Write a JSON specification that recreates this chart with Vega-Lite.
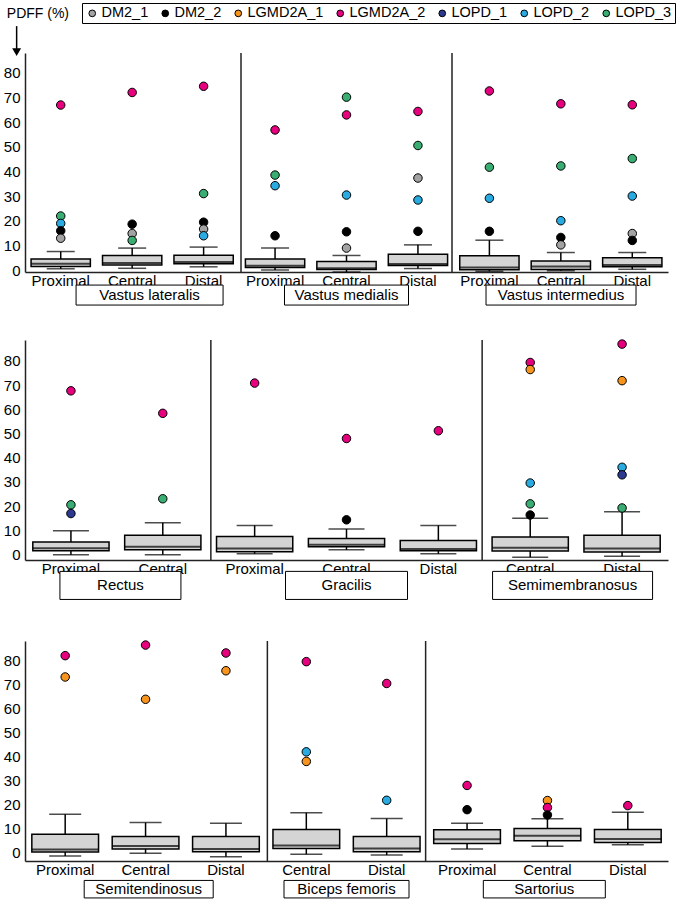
{
  "$schema": "https://vega.github.io/schema/vega-lite/v6.json",
  "padding": {"left": 3, "top": 2, "right": 1, "bottom": 2},
  "background": "white",
  "config": {
    "view": {"stroke": null},
    "font": "Liberation Sans",
    "axis": {"labelFont": "Liberation Sans", "labelFontSize": 15, "labelColor": "black", "ticks": false, "grid": false, "domainColor": "#222", "domainWidth": 1.5, "labelOverlap": false},
    "text": {"font": "Liberation Sans", "color": "black"}
  },
  "datasets": {
    "boxes": [
      {"row": 1, "cat": "Vastus lateralis|Proximal", "lo": 0.5, "q1": 1.4, "med": 2.5, "q3": 4.5, "hi": 7.5},
      {"row": 1, "cat": "Vastus lateralis|Central", "lo": 0.7, "q1": 2.0, "med": 2.8, "q3": 5.9, "hi": 8.9},
      {"row": 1, "cat": "Vastus lateralis|Distal", "lo": 1.3, "q1": 2.5, "med": 3.3, "q3": 6.0, "hi": 9.3},
      {"row": 1, "cat": "Vastus medialis|Proximal", "lo": 0.0, "q1": 1.0, "med": 1.7, "q3": 4.5, "hi": 8.9},
      {"row": 1, "cat": "Vastus medialis|Central", "lo": -0.8, "q1": 0.2, "med": 0.7, "q3": 3.5, "hi": 5.9},
      {"row": 1, "cat": "Vastus medialis|Distal", "lo": 0.6, "q1": 1.8, "med": 2.4, "q3": 6.4, "hi": 10.2},
      {"row": 1, "cat": "Vastus intermedius|Proximal", "lo": -0.5, "q1": 0.1, "med": 1.0, "q3": 5.8, "hi": 12.1},
      {"row": 1, "cat": "Vastus intermedius|Central", "lo": -0.3, "q1": 0.2, "med": 1.4, "q3": 3.7, "hi": 7.1},
      {"row": 1, "cat": "Vastus intermedius|Distal", "lo": 0.3, "q1": 1.3, "med": 2.0, "q3": 5.0, "hi": 7.1},
      {"row": 2, "cat": "Rectus|Proximal", "lo": -0.1, "q1": 1.5, "med": 2.6, "q3": 5.1, "hi": 9.8},
      {"row": 2, "cat": "Rectus|Central", "lo": -0.1, "q1": 1.9, "med": 3.2, "q3": 7.9, "hi": 13.1},
      {"row": 2, "cat": "Gracilis|Proximal", "lo": 0.3, "q1": 1.1, "med": 2.4, "q3": 7.4, "hi": 12.0},
      {"row": 2, "cat": "Gracilis|Central", "lo": 1.9, "q1": 3.2, "med": 4.0, "q3": 6.6, "hi": 10.5},
      {"row": 2, "cat": "Gracilis|Distal", "lo": 0.3, "q1": 1.5, "med": 2.2, "q3": 5.8, "hi": 12.0},
      {"row": 2, "cat": "Semimembranosus|Central", "lo": -1.2, "q1": 1.4, "med": 2.8, "q3": 7.2, "hi": 15.0},
      {"row": 2, "cat": "Semimembranosus|Distal", "lo": -0.8, "q1": 1.0, "med": 2.5, "q3": 7.9, "hi": 17.6},
      {"row": 3, "cat": "Semitendinosus|Proximal", "lo": -1.4, "q1": 0.3, "med": 1.3, "q3": 7.6, "hi": 16.0},
      {"row": 3, "cat": "Semitendinosus|Central", "lo": -0.3, "q1": 1.5, "med": 2.8, "q3": 6.7, "hi": 12.5},
      {"row": 3, "cat": "Semitendinosus|Distal", "lo": -1.7, "q1": 0.4, "med": 1.5, "q3": 6.7, "hi": 12.2},
      {"row": 3, "cat": "Biceps femoris|Central", "lo": -0.7, "q1": 1.7, "med": 3.0, "q3": 9.6, "hi": 16.6},
      {"row": 3, "cat": "Biceps femoris|Distal", "lo": -1.0, "q1": 0.4, "med": 1.7, "q3": 6.7, "hi": 14.2},
      {"row": 3, "cat": "Sartorius|Proximal", "lo": 1.5, "q1": 3.8, "med": 5.6, "q3": 9.5, "hi": 12.2},
      {"row": 3, "cat": "Sartorius|Central", "lo": 2.6, "q1": 4.9, "med": 7.0, "q3": 10.0, "hi": 14.1},
      {"row": 3, "cat": "Sartorius|Distal", "lo": 3.3, "q1": 4.2, "med": 5.7, "q3": 9.6, "hi": 16.8}
    ],
    "points": [
      {"row": 1, "cat": "Vastus lateralis|Proximal", "patient": "LGMD2A_2", "value": 66.9},
      {"row": 1, "cat": "Vastus lateralis|Proximal", "patient": "LOPD_3", "value": 21.9},
      {"row": 1, "cat": "Vastus lateralis|Proximal", "patient": "LOPD_2", "value": 18.9},
      {"row": 1, "cat": "Vastus lateralis|Proximal", "patient": "DM2_2", "value": 15.9},
      {"row": 1, "cat": "Vastus lateralis|Proximal", "patient": "DM2_1", "value": 12.9},
      {"row": 1, "cat": "Vastus lateralis|Central", "patient": "LGMD2A_2", "value": 72.0},
      {"row": 1, "cat": "Vastus lateralis|Central", "patient": "DM2_2", "value": 18.6},
      {"row": 1, "cat": "Vastus lateralis|Central", "patient": "DM2_1", "value": 14.8},
      {"row": 1, "cat": "Vastus lateralis|Central", "patient": "LOPD_3", "value": 12.0},
      {"row": 1, "cat": "Vastus lateralis|Distal", "patient": "LGMD2A_2", "value": 74.5},
      {"row": 1, "cat": "Vastus lateralis|Distal", "patient": "LOPD_3", "value": 31.0},
      {"row": 1, "cat": "Vastus lateralis|Distal", "patient": "DM2_2", "value": 19.4},
      {"row": 1, "cat": "Vastus lateralis|Distal", "patient": "DM2_1", "value": 16.6},
      {"row": 1, "cat": "Vastus lateralis|Distal", "patient": "LOPD_2", "value": 13.9},
      {"row": 1, "cat": "Vastus medialis|Proximal", "patient": "LGMD2A_2", "value": 56.8},
      {"row": 1, "cat": "Vastus medialis|Proximal", "patient": "LOPD_3", "value": 38.5},
      {"row": 1, "cat": "Vastus medialis|Proximal", "patient": "LOPD_2", "value": 34.2},
      {"row": 1, "cat": "Vastus medialis|Proximal", "patient": "DM2_2", "value": 13.9},
      {"row": 1, "cat": "Vastus medialis|Central", "patient": "LOPD_3", "value": 70.1},
      {"row": 1, "cat": "Vastus medialis|Central", "patient": "LGMD2A_2", "value": 62.9},
      {"row": 1, "cat": "Vastus medialis|Central", "patient": "LOPD_2", "value": 30.4},
      {"row": 1, "cat": "Vastus medialis|Central", "patient": "DM2_2", "value": 15.5},
      {"row": 1, "cat": "Vastus medialis|Central", "patient": "DM2_1", "value": 8.9},
      {"row": 1, "cat": "Vastus medialis|Distal", "patient": "LGMD2A_2", "value": 64.3},
      {"row": 1, "cat": "Vastus medialis|Distal", "patient": "LOPD_3", "value": 50.5},
      {"row": 1, "cat": "Vastus medialis|Distal", "patient": "DM2_1", "value": 37.3},
      {"row": 1, "cat": "Vastus medialis|Distal", "patient": "LOPD_2", "value": 28.4},
      {"row": 1, "cat": "Vastus medialis|Distal", "patient": "DM2_2", "value": 15.7},
      {"row": 1, "cat": "Vastus intermedius|Proximal", "patient": "LGMD2A_2", "value": 72.6},
      {"row": 1, "cat": "Vastus intermedius|Proximal", "patient": "LOPD_3", "value": 41.7},
      {"row": 1, "cat": "Vastus intermedius|Proximal", "patient": "LOPD_2", "value": 29.1},
      {"row": 1, "cat": "Vastus intermedius|Proximal", "patient": "DM2_2", "value": 15.7},
      {"row": 1, "cat": "Vastus intermedius|Central", "patient": "LGMD2A_2", "value": 67.4},
      {"row": 1, "cat": "Vastus intermedius|Central", "patient": "LOPD_3", "value": 42.2},
      {"row": 1, "cat": "Vastus intermedius|Central", "patient": "LOPD_2", "value": 20.0},
      {"row": 1, "cat": "Vastus intermedius|Central", "patient": "DM2_2", "value": 13.2},
      {"row": 1, "cat": "Vastus intermedius|Central", "patient": "DM2_1", "value": 10.2},
      {"row": 1, "cat": "Vastus intermedius|Distal", "patient": "LGMD2A_2", "value": 67.0},
      {"row": 1, "cat": "Vastus intermedius|Distal", "patient": "LOPD_3", "value": 45.2},
      {"row": 1, "cat": "Vastus intermedius|Distal", "patient": "LOPD_2", "value": 30.0},
      {"row": 1, "cat": "Vastus intermedius|Distal", "patient": "DM2_1", "value": 14.8},
      {"row": 1, "cat": "Vastus intermedius|Distal", "patient": "DM2_2", "value": 12.0},
      {"row": 2, "cat": "Rectus|Proximal", "patient": "LGMD2A_2", "value": 67.6},
      {"row": 2, "cat": "Rectus|Proximal", "patient": "LOPD_3", "value": 20.5},
      {"row": 2, "cat": "Rectus|Proximal", "patient": "LOPD_1", "value": 16.9},
      {"row": 2, "cat": "Rectus|Central", "patient": "LGMD2A_2", "value": 58.3},
      {"row": 2, "cat": "Rectus|Central", "patient": "LOPD_3", "value": 23.0},
      {"row": 2, "cat": "Gracilis|Proximal", "patient": "LGMD2A_2", "value": 70.8},
      {"row": 2, "cat": "Gracilis|Central", "patient": "LGMD2A_2", "value": 47.9},
      {"row": 2, "cat": "Gracilis|Central", "patient": "DM2_2", "value": 14.3},
      {"row": 2, "cat": "Gracilis|Distal", "patient": "LGMD2A_2", "value": 51.1},
      {"row": 2, "cat": "Semimembranosus|Central", "patient": "LGMD2A_2", "value": 79.3},
      {"row": 2, "cat": "Semimembranosus|Central", "patient": "LGMD2A_1", "value": 76.4},
      {"row": 2, "cat": "Semimembranosus|Central", "patient": "LOPD_2", "value": 29.5},
      {"row": 2, "cat": "Semimembranosus|Central", "patient": "LOPD_3", "value": 20.9},
      {"row": 2, "cat": "Semimembranosus|Central", "patient": "DM2_2", "value": 16.3},
      {"row": 2, "cat": "Semimembranosus|Distal", "patient": "LGMD2A_2", "value": 86.9},
      {"row": 2, "cat": "Semimembranosus|Distal", "patient": "LGMD2A_1", "value": 71.8},
      {"row": 2, "cat": "Semimembranosus|Distal", "patient": "LOPD_2", "value": 36.0},
      {"row": 2, "cat": "Semimembranosus|Distal", "patient": "LOPD_1", "value": 32.9},
      {"row": 2, "cat": "Semimembranosus|Distal", "patient": "LOPD_3", "value": 19.2},
      {"row": 3, "cat": "Semitendinosus|Proximal", "patient": "LGMD2A_2", "value": 82.1},
      {"row": 3, "cat": "Semitendinosus|Proximal", "patient": "LGMD2A_1", "value": 73.2},
      {"row": 3, "cat": "Semitendinosus|Central", "patient": "LGMD2A_2", "value": 86.5},
      {"row": 3, "cat": "Semitendinosus|Central", "patient": "LGMD2A_1", "value": 63.9},
      {"row": 3, "cat": "Semitendinosus|Distal", "patient": "LGMD2A_2", "value": 83.2},
      {"row": 3, "cat": "Semitendinosus|Distal", "patient": "LGMD2A_1", "value": 75.8},
      {"row": 3, "cat": "Biceps femoris|Central", "patient": "LGMD2A_2", "value": 79.6},
      {"row": 3, "cat": "Biceps femoris|Central", "patient": "LOPD_2", "value": 42.0},
      {"row": 3, "cat": "Biceps femoris|Central", "patient": "LGMD2A_1", "value": 38.0},
      {"row": 3, "cat": "Biceps femoris|Distal", "patient": "LGMD2A_2", "value": 70.5},
      {"row": 3, "cat": "Biceps femoris|Distal", "patient": "LOPD_2", "value": 21.8},
      {"row": 3, "cat": "Sartorius|Proximal", "patient": "LGMD2A_2", "value": 28.0},
      {"row": 3, "cat": "Sartorius|Proximal", "patient": "DM2_2", "value": 17.9},
      {"row": 3, "cat": "Sartorius|Central", "patient": "LGMD2A_1", "value": 21.7},
      {"row": 3, "cat": "Sartorius|Central", "patient": "LGMD2A_2", "value": 18.8},
      {"row": 3, "cat": "Sartorius|Central", "patient": "DM2_2", "value": 15.7},
      {"row": 3, "cat": "Sartorius|Distal", "patient": "LGMD2A_2", "value": 19.6}
    ],
    "groups": [
      {"row": 1, "muscle": "Vastus lateralis", "mid": 1.7},
      {"row": 1, "muscle": "Vastus medialis", "mid": 4.5},
      {"row": 1, "muscle": "Vastus intermedius", "mid": 7.55},
      {"row": 2, "muscle": "Rectus", "mid": 1.0},
      {"row": 2, "muscle": "Gracilis", "mid": 3.5},
      {"row": 2, "muscle": "Semimembranosus", "mid": 6.0},
      {"row": 3, "muscle": "Semitendinosus", "mid": 1.5},
      {"row": 3, "muscle": "Biceps femoris", "mid": 4.0},
      {"row": 3, "muscle": "Sartorius", "mid": 6.5}
    ],
    "seps": [
      {"row": 1, "at": 3}, {"row": 1, "at": 6},
      {"row": 2, "at": 2}, {"row": 2, "at": 5},
      {"row": 3, "at": 3}, {"row": 3, "at": 5}
    ]
  },
  "columns": 1,
  "spacing": 31,
  "align": "each",
  "concat": [
    {
      "width": 643, "height": 219,
      "resolve": {"scale": {"x": "independent"}, "axis": {"x": "independent"}},
      "layer": [
        {
          "layer": [
            {"data": {"name": "boxes"}, "transform": [{"filter": "datum.row == 1"}],
             "mark": {"type": "rule", "color": "black", "strokeWidth": 1.5},
             "encoding": {
               "x": {"field": "cat", "type": "nominal", "sort": null, "scale": {"domain": ["Vastus lateralis|Proximal","Vastus lateralis|Central","Vastus lateralis|Distal","Vastus medialis|Proximal","Vastus medialis|Central","Vastus medialis|Distal","Vastus intermedius|Proximal","Vastus intermedius|Central","Vastus intermedius|Distal"], "paddingInner": 0, "paddingOuter": 0},
                     "axis": {"title": null, "labelExpr": "split(datum.value, '|')[1]", "labelAngle": 0, "labelPadding": 1}},
               "y": {"field": "lo", "type": "quantitative", "scale": {"domain": [-0.8, 88], "nice": false, "zero": false},
                     "axis": {"title": null, "values": [0,10,20,30,40,50,60,70,80], "labelPadding": 5}},
               "y2": {"field": "hi"}}},
            {"data": {"name": "boxes"}, "transform": [{"filter": "datum.row == 1"}],
             "mark": {"type": "tick", "color": "black", "thickness": 1.5, "size": 28},
             "encoding": {"x": {"field": "cat", "type": "nominal", "sort": null}, "y": {"field": "hi", "type": "quantitative", "axis": {"title": null, "values": [0,10,20,30,40,50,60,70,80], "labelPadding": 5}}}},
            {"data": {"name": "boxes"}, "transform": [{"filter": "datum.row == 1"}],
             "mark": {"type": "tick", "color": "black", "thickness": 1.5, "size": 28},
             "encoding": {"x": {"field": "cat", "type": "nominal", "sort": null}, "y": {"field": "lo", "type": "quantitative", "axis": {"title": null, "values": [0,10,20,30,40,50,60,70,80], "labelPadding": 5}}}},
            {"data": {"name": "boxes"}, "transform": [{"filter": "datum.row == 1"}],
             "mark": {"type": "bar", "fill": "#d4d4d4", "stroke": "black", "strokeWidth": 1.5, "width": {"band": 0.83}},
             "encoding": {"x": {"field": "cat", "type": "nominal", "sort": null}, "y": {"field": "q1", "type": "quantitative", "axis": {"title": null, "values": [0,10,20,30,40,50,60,70,80], "labelPadding": 5}}, "y2": {"field": "q3"}}},
            {"data": {"name": "boxes"}, "transform": [{"filter": "datum.row == 1"}],
             "mark": {"type": "tick", "color": "black", "thickness": 2, "size": 59},
             "encoding": {"x": {"field": "cat", "type": "nominal", "sort": null}, "y": {"field": "med", "type": "quantitative", "axis": {"title": null, "values": [0,10,20,30,40,50,60,70,80], "labelPadding": 5}}}},
            {"data": {"name": "points"}, "transform": [{"filter": "datum.row == 1"}],
             "mark": {"type": "point", "filled": true, "shape": "circle", "size": 72, "stroke": "black", "strokeWidth": 1, "opacity": 1},
             "encoding": {
               "x": {"field": "cat", "type": "nominal", "sort": null},
               "y": {"field": "value", "type": "quantitative", "axis": {"title": null, "values": [0,10,20,30,40,50,60,70,80], "labelPadding": 5}},
               "color": {"field": "patient", "type": "nominal",
                 "scale": {"domain": ["DM2_1","DM2_2","LGMD2A_1","LGMD2A_2","LOPD_1","LOPD_2","LOPD_3"], "range": ["#a3a3a3","#000000","#f7941d","#e6007e","#2b3990","#29aae1","#3aae72"]},
                 "legend": {"orient": "none", "legendX": 57, "legendY": -50, "direction": "horizontal", "title": null, "symbolType": "circle", "symbolSize": 45, "symbolStrokeColor": "black", "symbolStrokeWidth": 1, "labelFontSize": 14.5, "labelFont": "Liberation Sans", "labelColor": "black", "labelOffset": 2, "columnPadding": 9, "padding": 3, "strokeColor": "black", "fillColor": "white"}}}}
          ]
        },
        {
          "layer": [
            {"data": {"name": "seps"}, "transform": [{"filter": "datum.row == 1"}],
             "mark": {"type": "rule", "color": "#222", "strokeWidth": 1.5},
             "encoding": {"x": {"field": "at", "type": "quantitative", "scale": {"domain": [0, 9], "nice": false, "zero": false}, "axis": null},
                          "y": {"datum": 88, "axis": {"title": null, "values": [0,10,20,30,40,50,60,70,80], "labelPadding": 5}}, "y2": {"datum": -0.8}}},
            {"data": {"name": "groups"}, "transform": [{"filter": "datum.muscle == 'Vastus lateralis'"}],
             "mark": {"type": "bar", "fill": "white", "stroke": "black", "strokeWidth": 1, "width": 147},
             "encoding": {"x": {"field": "mid", "type": "quantitative", "axis": null}, "y": {"datum": -6.1, "axis": {"title": null, "values": [0,10,20,30,40,50,60,70,80], "labelPadding": 5}}, "y2": {"datum": -14.2}}},
            {"data": {"name": "groups"}, "transform": [{"filter": "datum.muscle == 'Vastus medialis'"}],
             "mark": {"type": "bar", "fill": "white", "stroke": "black", "strokeWidth": 1, "width": 124},
             "encoding": {"x": {"field": "mid", "type": "quantitative", "axis": null}, "y": {"datum": -6.1, "axis": {"title": null, "values": [0,10,20,30,40,50,60,70,80], "labelPadding": 5}}, "y2": {"datum": -14.2}}},
            {"data": {"name": "groups"}, "transform": [{"filter": "datum.muscle == 'Vastus intermedius'"}],
             "mark": {"type": "bar", "fill": "white", "stroke": "black", "strokeWidth": 1, "width": 150},
             "encoding": {"x": {"field": "mid", "type": "quantitative", "axis": null}, "y": {"datum": -6.1, "axis": {"title": null, "values": [0,10,20,30,40,50,60,70,80], "labelPadding": 5}}, "y2": {"datum": -14.2}}},
            {"data": {"name": "groups"}, "transform": [{"filter": "datum.row == 1"}],
             "mark": {"type": "text", "fontSize": 15, "baseline": "middle", "align": "center"},
             "encoding": {"x": {"field": "mid", "type": "quantitative", "axis": null}, "y": {"datum": -10.15, "axis": {"title": null, "values": [0,10,20,30,40,50,60,70,80], "labelPadding": 5}}, "text": {"field": "muscle"}}},
            {"data": {"values": [{"t": "PDFF (%)"}]},
             "mark": {"type": "text", "fontSize": 14, "baseline": "middle", "align": "left"},
             "encoding": {"x": {"datum": -0.33, "type": "quantitative", "axis": null}, "y": {"datum": 103.8, "axis": {"title": null, "values": [0,10,20,30,40,50,60,70,80], "labelPadding": 5}}, "text": {"field": "t"}}},
            {"data": {"values": [{"t": "arrow"}]},
             "mark": {"type": "rule", "color": "black", "strokeWidth": 1.5},
             "encoding": {"x": {"datum": -0.19, "type": "quantitative", "axis": null}, "y": {"datum": 98.9, "axis": {"title": null, "values": [0,10,20,30,40,50,60,70,80], "labelPadding": 5}}, "y2": {"datum": 89.5}}},
            {"data": {"values": [{"t": "arrow"}]},
             "mark": {"type": "point", "shape": "triangle-down", "filled": true, "color": "black", "size": 80, "opacity": 1},
             "encoding": {"x": {"datum": -0.19, "type": "quantitative", "axis": null}, "y": {"datum": 88.4, "axis": {"title": null, "values": [0,10,20,30,40,50,60,70,80], "labelPadding": 5}}}}
          ]
        }
      ]
    },
    {
      "width": 643, "height": 220,
      "resolve": {"scale": {"x": "independent"}, "axis": {"x": "independent"}},
      "layer": [
        {
          "layer": [
            {"data": {"name": "boxes"}, "transform": [{"filter": "datum.row == 2"}],
             "mark": {"type": "rule", "color": "black", "strokeWidth": 1.5},
             "encoding": {
               "x": {"field": "cat", "type": "nominal", "sort": null, "scale": {"domain": ["Rectus|Proximal","Rectus|Central","Gracilis|Proximal","Gracilis|Central","Gracilis|Distal","Semimembranosus|Central","Semimembranosus|Distal"], "paddingInner": 0, "paddingOuter": 0},
                     "axis": {"title": null, "labelExpr": "split(datum.value, '|')[1]", "labelAngle": 0, "labelPadding": 1}},
               "y": {"field": "lo", "type": "quantitative", "scale": {"domain": [-2.3, 88.6], "nice": false, "zero": false},
                     "axis": {"title": null, "values": [0,10,20,30,40,50,60,70,80], "labelPadding": 5}},
               "y2": {"field": "hi"}}},
            {"data": {"name": "boxes"}, "transform": [{"filter": "datum.row == 2"}],
             "mark": {"type": "tick", "color": "black", "thickness": 1.5, "size": 36},
             "encoding": {"x": {"field": "cat", "type": "nominal", "sort": null}, "y": {"field": "hi", "type": "quantitative", "axis": {"title": null, "values": [0,10,20,30,40,50,60,70,80], "labelPadding": 5}}}},
            {"data": {"name": "boxes"}, "transform": [{"filter": "datum.row == 2"}],
             "mark": {"type": "tick", "color": "black", "thickness": 1.5, "size": 36},
             "encoding": {"x": {"field": "cat", "type": "nominal", "sort": null}, "y": {"field": "lo", "type": "quantitative", "axis": {"title": null, "values": [0,10,20,30,40,50,60,70,80], "labelPadding": 5}}}},
            {"data": {"name": "boxes"}, "transform": [{"filter": "datum.row == 2"}],
             "mark": {"type": "bar", "fill": "#d4d4d4", "stroke": "black", "strokeWidth": 1.5, "width": {"band": 0.83}},
             "encoding": {"x": {"field": "cat", "type": "nominal", "sort": null}, "y": {"field": "q1", "type": "quantitative", "axis": {"title": null, "values": [0,10,20,30,40,50,60,70,80], "labelPadding": 5}}, "y2": {"field": "q3"}}},
            {"data": {"name": "boxes"}, "transform": [{"filter": "datum.row == 2"}],
             "mark": {"type": "tick", "color": "black", "thickness": 2, "size": 76},
             "encoding": {"x": {"field": "cat", "type": "nominal", "sort": null}, "y": {"field": "med", "type": "quantitative", "axis": {"title": null, "values": [0,10,20,30,40,50,60,70,80], "labelPadding": 5}}}},
            {"data": {"name": "points"}, "transform": [{"filter": "datum.row == 2"}],
             "mark": {"type": "point", "filled": true, "shape": "circle", "size": 72, "stroke": "black", "strokeWidth": 1, "opacity": 1},
             "encoding": {
               "x": {"field": "cat", "type": "nominal", "sort": null},
               "y": {"field": "value", "type": "quantitative", "axis": {"title": null, "values": [0,10,20,30,40,50,60,70,80], "labelPadding": 5}},
               "color": {"field": "patient", "type": "nominal",
                 "scale": {"domain": ["DM2_1","DM2_2","LGMD2A_1","LGMD2A_2","LOPD_1","LOPD_2","LOPD_3"], "range": ["#a3a3a3","#000000","#f7941d","#e6007e","#2b3990","#29aae1","#3aae72"]},
                 "legend": {"orient": "none", "legendX": 57, "legendY": -50, "direction": "horizontal", "title": null, "symbolType": "circle", "symbolSize": 45, "symbolStrokeColor": "black", "symbolStrokeWidth": 1, "labelFontSize": 14.5, "labelFont": "Liberation Sans", "labelColor": "black", "labelOffset": 2, "columnPadding": 9, "padding": 3, "strokeColor": "black", "fillColor": "white"}}}}
          ]
        },
        {
          "layer": [
            {"data": {"name": "seps"}, "transform": [{"filter": "datum.row == 2"}],
             "mark": {"type": "rule", "color": "#222", "strokeWidth": 1.5},
             "encoding": {"x": {"field": "at", "type": "quantitative", "scale": {"domain": [0, 7], "nice": false, "zero": false}, "axis": null},
                          "y": {"datum": 88.6, "axis": {"title": null, "values": [0,10,20,30,40,50,60,70,80], "labelPadding": 5}}, "y2": {"datum": -2.3}}},
            {"data": {"name": "groups"}, "transform": [{"filter": "datum.muscle == 'Rectus'"}],
             "mark": {"type": "bar", "fill": "white", "stroke": "black", "strokeWidth": 1, "width": 121},
             "encoding": {"x": {"field": "mid", "type": "quantitative", "axis": null}, "y": {"datum": -7.0, "axis": {"title": null, "values": [0,10,20,30,40,50,60,70,80], "labelPadding": 5}}, "y2": {"datum": -18.6}}},
            {"data": {"name": "groups"}, "transform": [{"filter": "datum.muscle == 'Gracilis'"}],
             "mark": {"type": "bar", "fill": "white", "stroke": "black", "strokeWidth": 1, "width": 122},
             "encoding": {"x": {"field": "mid", "type": "quantitative", "axis": null}, "y": {"datum": -7.0, "axis": {"title": null, "values": [0,10,20,30,40,50,60,70,80], "labelPadding": 5}}, "y2": {"datum": -18.6}}},
            {"data": {"name": "groups"}, "transform": [{"filter": "datum.muscle == 'Semimembranosus'"}],
             "mark": {"type": "bar", "fill": "white", "stroke": "black", "strokeWidth": 1, "width": 160},
             "encoding": {"x": {"field": "mid", "type": "quantitative", "axis": null}, "y": {"datum": -7.0, "axis": {"title": null, "values": [0,10,20,30,40,50,60,70,80], "labelPadding": 5}}, "y2": {"datum": -18.6}}},
            {"data": {"name": "groups"}, "transform": [{"filter": "datum.row == 2"}],
             "mark": {"type": "text", "fontSize": 15, "baseline": "middle", "align": "center"},
             "encoding": {"x": {"field": "mid", "type": "quantitative", "axis": null}, "y": {"datum": -12.8, "axis": {"title": null, "values": [0,10,20,30,40,50,60,70,80], "labelPadding": 5}}, "text": {"field": "muscle"}}}
          ]
        }
      ]
    },
    {
      "width": 643, "height": 220,
      "title": {"text": " ", "fontSize": 7, "offset": 0},
      "resolve": {"scale": {"x": "independent"}, "axis": {"x": "independent"}},
      "layer": [
        {
          "layer": [
            {"data": {"name": "boxes"}, "transform": [{"filter": "datum.row == 3"}],
             "mark": {"type": "rule", "color": "black", "strokeWidth": 1.5},
             "encoding": {
               "x": {"field": "cat", "type": "nominal", "sort": null, "scale": {"domain": ["Semitendinosus|Proximal","Semitendinosus|Central","Semitendinosus|Distal","Biceps femoris|Central","Biceps femoris|Distal","Sartorius|Proximal","Sartorius|Central","Sartorius|Distal"], "paddingInner": 0, "paddingOuter": 0},
                     "axis": {"title": null, "labelExpr": "split(datum.value, '|')[1]", "labelAngle": 0, "labelPadding": 1}},
               "y": {"field": "lo", "type": "quantitative", "scale": {"domain": [-3.5, 88.2], "nice": false, "zero": false},
                     "axis": {"title": null, "values": [0,10,20,30,40,50,60,70,80], "labelPadding": 5}},
               "y2": {"field": "hi"}}},
            {"data": {"name": "boxes"}, "transform": [{"filter": "datum.row == 3"}],
             "mark": {"type": "tick", "color": "black", "thickness": 1.5, "size": 32},
             "encoding": {"x": {"field": "cat", "type": "nominal", "sort": null}, "y": {"field": "hi", "type": "quantitative", "axis": {"title": null, "values": [0,10,20,30,40,50,60,70,80], "labelPadding": 5}}}},
            {"data": {"name": "boxes"}, "transform": [{"filter": "datum.row == 3"}],
             "mark": {"type": "tick", "color": "black", "thickness": 1.5, "size": 32},
             "encoding": {"x": {"field": "cat", "type": "nominal", "sort": null}, "y": {"field": "lo", "type": "quantitative", "axis": {"title": null, "values": [0,10,20,30,40,50,60,70,80], "labelPadding": 5}}}},
            {"data": {"name": "boxes"}, "transform": [{"filter": "datum.row == 3"}],
             "mark": {"type": "bar", "fill": "#d4d4d4", "stroke": "black", "strokeWidth": 1.5, "width": {"band": 0.83}},
             "encoding": {"x": {"field": "cat", "type": "nominal", "sort": null}, "y": {"field": "q1", "type": "quantitative", "axis": {"title": null, "values": [0,10,20,30,40,50,60,70,80], "labelPadding": 5}}, "y2": {"field": "q3"}}},
            {"data": {"name": "boxes"}, "transform": [{"filter": "datum.row == 3"}],
             "mark": {"type": "tick", "color": "black", "thickness": 2, "size": 67},
             "encoding": {"x": {"field": "cat", "type": "nominal", "sort": null}, "y": {"field": "med", "type": "quantitative", "axis": {"title": null, "values": [0,10,20,30,40,50,60,70,80], "labelPadding": 5}}}},
            {"data": {"name": "points"}, "transform": [{"filter": "datum.row == 3"}],
             "mark": {"type": "point", "filled": true, "shape": "circle", "size": 72, "stroke": "black", "strokeWidth": 1, "opacity": 1},
             "encoding": {
               "x": {"field": "cat", "type": "nominal", "sort": null},
               "y": {"field": "value", "type": "quantitative", "axis": {"title": null, "values": [0,10,20,30,40,50,60,70,80], "labelPadding": 5}},
               "color": {"field": "patient", "type": "nominal",
                 "scale": {"domain": ["DM2_1","DM2_2","LGMD2A_1","LGMD2A_2","LOPD_1","LOPD_2","LOPD_3"], "range": ["#a3a3a3","#000000","#f7941d","#e6007e","#2b3990","#29aae1","#3aae72"]},
                 "legend": {"orient": "none", "legendX": 57, "legendY": -50, "direction": "horizontal", "title": null, "symbolType": "circle", "symbolSize": 45, "symbolStrokeColor": "black", "symbolStrokeWidth": 1, "labelFontSize": 14.5, "labelFont": "Liberation Sans", "labelColor": "black", "labelOffset": 2, "columnPadding": 9, "padding": 3, "strokeColor": "black", "fillColor": "white"}}}}
          ]
        },
        {
          "layer": [
            {"data": {"name": "seps"}, "transform": [{"filter": "datum.row == 3"}],
             "mark": {"type": "rule", "color": "#222", "strokeWidth": 1.5},
             "encoding": {"x": {"field": "at", "type": "quantitative", "scale": {"domain": [0, 8], "nice": false, "zero": false}, "axis": null},
                          "y": {"datum": 88.2, "axis": {"title": null, "values": [0,10,20,30,40,50,60,70,80], "labelPadding": 5}}, "y2": {"datum": -3.5}}},
            {"data": {"name": "groups"}, "transform": [{"filter": "datum.muscle == 'Semitendinosus'"}],
             "mark": {"type": "bar", "fill": "white", "stroke": "black", "strokeWidth": 1, "width": 129},
             "encoding": {"x": {"field": "mid", "type": "quantitative", "axis": null}, "y": {"datum": -11.6, "axis": {"title": null, "values": [0,10,20,30,40,50,60,70,80], "labelPadding": 5}}, "y2": {"datum": -18.9}}},
            {"data": {"name": "groups"}, "transform": [{"filter": "datum.muscle == 'Biceps femoris'"}],
             "mark": {"type": "bar", "fill": "white", "stroke": "black", "strokeWidth": 1, "width": 125},
             "encoding": {"x": {"field": "mid", "type": "quantitative", "axis": null}, "y": {"datum": -11.6, "axis": {"title": null, "values": [0,10,20,30,40,50,60,70,80], "labelPadding": 5}}, "y2": {"datum": -18.9}}},
            {"data": {"name": "groups"}, "transform": [{"filter": "datum.muscle == 'Sartorius'"}],
             "mark": {"type": "bar", "fill": "white", "stroke": "black", "strokeWidth": 1, "width": 122},
             "encoding": {"x": {"field": "mid", "type": "quantitative", "axis": null}, "y": {"datum": -11.6, "axis": {"title": null, "values": [0,10,20,30,40,50,60,70,80], "labelPadding": 5}}, "y2": {"datum": -18.9}}},
            {"data": {"name": "groups"}, "transform": [{"filter": "datum.row == 3"}],
             "mark": {"type": "text", "fontSize": 15, "baseline": "middle", "align": "center"},
             "encoding": {"x": {"field": "mid", "type": "quantitative", "axis": null}, "y": {"datum": -15.25, "axis": {"title": null, "values": [0,10,20,30,40,50,60,70,80], "labelPadding": 5}}, "text": {"field": "muscle"}}}
          ]
        }
      ]
    }
  ],
  "resolve": {"scale": {"color": "shared"}, "legend": {"color": "shared"}}
}
